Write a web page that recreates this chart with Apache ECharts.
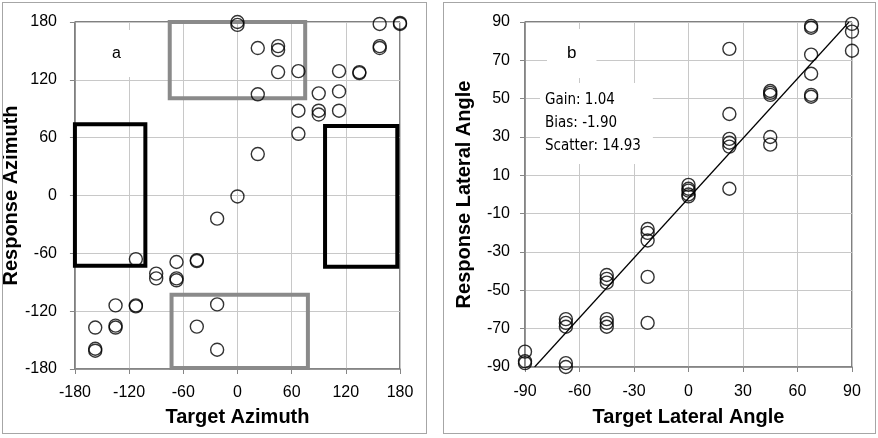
<!DOCTYPE html>
<html>
<head>
<meta charset="utf-8">
<script src="https://cdn.jsdelivr.net/npm/echarts@6/dist/echarts.min.js"></script>
<style>
html, body { margin: 0; padding: 0; background: #fff; }
#wrap { position: relative; width: 878px; height: 438px; }
#chart { width: 878px; height: 438px; }
.panel { position: absolute; top: 2px; height: 430px; border: 1.5px solid #a6a6a6; pointer-events: none; }
</style>
</head>
<body>
<div id="wrap">
    <div id="chart"></div>
    <div class="panel" style="left: 2px; width: 423px;"></div>
    <div class="panel" style="left: 443px; width: 431px;"></div>
</div>
<script>
// panel a: target / response azimuth
var azimuthStep = 60;
var azimuthPoints = [
    [0, 180], [0, 177], [22.5, 153], [45, 155], [45, 151], [45, 128], [67.5, 129],
    [22.5, 105], [90, 106], [112.5, 108], [112.5, 129], [135, 128], [135, 127],
    [157.5, 178], [157.5, 155], [157.5, 153], [180, 179], [180, 178],
    [67.5, 88], [90, 88], [90, 84], [112.5, 88], [67.5, 64], [22.5, 43], [0, -1],
    [-22.5, -24], [-112.5, -66], [-67.5, -69], [-45, -67], [-45, -68],
    [-90, -81], [-90, -86], [-67.5, -86], [-67.5, -88],
    [-135, -114], [-112.5, -114], [-112.5, -115], [-22.5, -113],
    [-157.5, -137], [-135, -135], [-135, -137], [-45, -136],
    [-157.5, -159], [-157.5, -161], [-22.5, -160]
];
// boxes: [xFrom, yFrom, xTo, yTo]
var blackBoxes = [[-180, -73, -102, 74], [97, -74, 177, 72]];
var grayBoxes = [[-75, 101, 75, 180], [-73, -179, 78, -103]];

// panel b: target / response lateral angle
var lateralXStep = 30;
var lateralYStep = 20;
var lateralPoints = [
    [90, 89], [90, 85], [90, 75], [67.5, 88], [67.5, 87], [67.5, 73], [67.5, 63],
    [67.5, 52], [67.5, 51], [22.5, 76], [22.5, 42], [22.5, 29], [22.5, 27],
    [22.5, 25], [22.5, 3], [45, 54], [45, 53], [45, 52], [45, 30], [45, 26],
    [0, 5], [0, 3], [0, 2], [0, 0], [0, -1],
    [-22.5, -18], [-22.5, -20], [-22.5, -24], [-22.5, -43], [-22.5, -67],
    [-45, -42], [-45, -44], [-45, -46], [-45, -65], [-45, -67], [-45, -69],
    [-67.5, -65], [-67.5, -67], [-67.5, -69], [-67.5, -88], [-67.5, -90],
    [-90, -82], [-90, -87], [-90, -88]
];
var gain = 1.04;
var bias = -1.90;
var scatter = 14.93;

var tickFont = 'Liberation Sans';
var gridColor = '#c8c8c8';
var axisColor = '#868686';

function boxArea(box, color) {
    return [
        {coord: [box[0], box[1]], itemStyle: {color: 'rgba(0,0,0,0)', borderColor: color, borderWidth: 4}},
        {coord: [box[2], box[3]]}
    ];
}

function makeAxis(idx, min, max, step, name, gap, labelMargin) {
    return {
        type: 'value',
        gridIndex: idx,
        min: min,
        max: max,
        interval: step,
        name: name,
        nameLocation: 'middle',
        nameGap: gap,
        nameTextStyle: {fontFamily: tickFont, fontSize: 20, fontWeight: 'bold', color: '#000'},
        axisLine: {show: true, onZero: false, lineStyle: {color: axisColor, width: 1.5}},
        axisTick: {show: true, length: 5, lineStyle: {color: axisColor}},
        axisLabel: {margin: labelMargin, fontFamily: tickFont, fontSize: 16, color: '#000'},
        splitLine: {show: true, lineStyle: {color: gridColor, width: 1, type: 'solid'}}
    };
}

function boxTitle(text, left, top, size, family, pad) {
    return {
        text: text,
        left: left,
        top: top,
        padding: pad,
        backgroundColor: '#fff',
        textStyle: {fontFamily: family, fontSize: size, fontWeight: 'normal', color: '#000', lineHeight: 23}
    };
}

var chart = echarts.init(document.getElementById('chart'));

var lineStartX = (-90 - bias) / gain;
var lineEndX = (90 - bias) / gain;

var option = {
    animation: false,
    title: [
        boxTitle('a', 98, 30, 16, 'Liberation Sans', [12, 14]),
        boxTitle('b', 547, 29, 17, 'Liberation Sans', [13, 20]),
        boxTitle('Gain: ' + gain.toFixed(2) + '\nBias: ' + bias.toFixed(2) + '\nScatter: ' + scatter.toFixed(2),
            540, 83, 15, 'DejaVu Sans Condensed', [6, 12, 6, 5])
    ],
    grid: [
        {left: 73, top: 22, width: 327, height: 347, show: true, borderColor: '#000'},
        {left: 525, top: 22, width: 327, height: 345, show: true, borderColor: '#000'}
    ],
    xAxis: [
        makeAxis(0, -180, 180, azimuthStep, 'Target Azimuth', 38, 16),
        makeAxis(1, -90, 90, lateralXStep, 'Target Lateral Angle', 40, 17)
    ],
    yAxis: [
        makeAxis(0, -180, 180, azimuthStep, 'Response Azimuth', 48, 18),
        makeAxis(1, -90, 90, lateralYStep, 'Response Lateral Angle', 51, 15)
    ],
    series: [
        {
            type: 'scatter',
            xAxisIndex: 0,
            yAxisIndex: 0,
            symbol: 'circle',
            symbolSize: 13,
            itemStyle: {color: 'rgba(0,0,0,0)', borderColor: '#000', borderWidth: 1.4},
            data: azimuthPoints,
            markArea: {
                silent: true,
                data: [
                    boxArea(blackBoxes[0], '#000'),
                    boxArea(blackBoxes[1], '#000'),
                    boxArea(grayBoxes[0], '#8a8a8a'),
                    boxArea(grayBoxes[1], '#8a8a8a')
                ]
            }
        },
        {
            type: 'line',
            xAxisIndex: 1,
            yAxisIndex: 1,
            symbol: 'none',
            lineStyle: {color: '#000', width: 1.2},
            data: [[lineStartX, -90], [lineEndX, 90]]
        },
        {
            type: 'scatter',
            xAxisIndex: 1,
            yAxisIndex: 1,
            symbol: 'circle',
            symbolSize: 13,
            itemStyle: {color: 'rgba(0,0,0,0)', borderColor: '#000', borderWidth: 1.4},
            data: lateralPoints
        }
    ]
};

chart.setOption(option);
</script>
</body>
</html>
